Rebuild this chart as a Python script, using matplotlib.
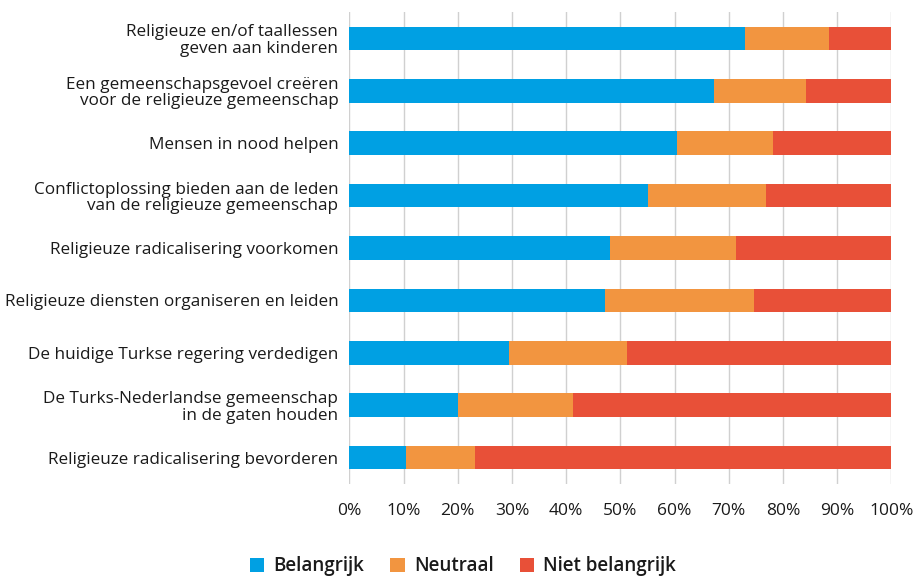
import matplotlib
matplotlib.use("Agg")
import matplotlib.pyplot as plt
from matplotlib.ticker import FuncFormatter
from matplotlib.patches import Patch

categories = [
    "Religieuze en/of taallessen\ngeven aan kinderen",
    "Een gemeenschapsgevoel creëren\nvoor de religieuze gemeenschap",
    "Mensen in nood helpen",
    "Conflictoplossing bieden aan de leden\nvan de religieuze gemeenschap",
    "Religieuze radicalisering voorkomen",
    "Religieuze diensten organiseren en leiden",
    "De huidige Turkse regering verdedigen",
    "De Turks-Nederlandse gemeenschap\nin de gaten houden",
    "Religieuze radicalisering bevorderen",
]
belangrijk = [73.0, 67.3, 60.5, 55.1, 48.1, 47.2, 29.5, 20.1, 10.5]
neutraal = [15.5, 16.9, 17.7, 21.8, 23.2, 27.5, 21.8, 21.2, 12.7]
niet_belangrijk = [100 - b - n for b, n in zip(belangrijk, neutraal)]
series_names = ["Belangrijk", "Neutraal", "Niet belangrijk"]
colors = ["#00A0E3", "#F29540", "#E85038"]
xticks = [0, 10, 20, 30, 40, 50, 60, 70, 80, 90, 100]

plt.rcParams['font.family'] = ['Open Sans', 'DejaVu Sans']
text_color = "#1a1a1a"

fig = plt.figure(figsize=(9.17, 5.78), dpi=100)
ax = fig.add_axes([0.381, 0.163, 0.591, 0.816])

y = list(range(len(categories)))
left = [0] * len(categories)
for vals, col, name in zip([belangrijk, neutraal, niet_belangrijk], colors, series_names):
    ax.barh(y, vals, left=left, color=col, height=0.45, label=name, zorder=3)
    left = [l + v for l, v in zip(left, vals)]

ax.set_ylim(len(categories) - 0.5, -0.5)
ax.set_xlim(0, 100)
ax.set_yticks(y)
ax.set_yticklabels(categories, fontsize=12.3, color=text_color, linespacing=1.05)
ax.set_xticks(xticks)
ax.xaxis.set_major_formatter(FuncFormatter(lambda v, p: f"{int(v)}%"))
ax.tick_params(axis='x', labelsize=12.5, colors=text_color, length=0, pad=14)
ax.tick_params(axis='y', length=0, pad=8)
ax.grid(axis='x', color="#d0d0d0", linewidth=1, zorder=0)
for s in ax.spines.values():
    s.set_visible(False)

handles = [Patch(facecolor=c, edgecolor='none') for c in colors]
fig.legend(handles, series_names, loc='center', bbox_to_anchor=(0.505, 0.02),
           ncol=3, frameon=False, handlelength=0.75, handleheight=0.75,
           columnspacing=1.4, handletextpad=0.5, labelcolor=text_color,
           prop={'family': ['Open Sans', 'DejaVu Sans'], 'size': 13.5, 'weight': 'semibold'})

fig.savefig("out.png", dpi=100)
